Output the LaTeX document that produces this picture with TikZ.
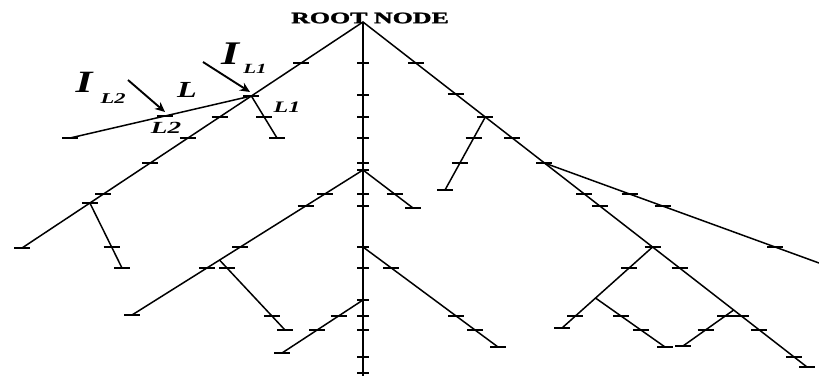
\documentclass[tikz,border=0pt]{standalone}
\usepackage{fontspec}
\usepackage{graphicx}
\setmainfont{Liberation Serif}
\newfontfamily\heavyserif[FakeBold=1.5]{Liberation Serif}
\usetikzlibrary{calc,arrows.meta}
\tikzset{
  branch/.style={line width=1.5pt, line cap=round},
  trunkline/.style={line width=2.8pt},
  tickline/.style={line width=1.3pt},
  curr/.style={line width=1.9pt, -{Stealth[length=10pt,width=9pt]}},
  lbl/.style={inner sep=0pt},
}
\newcommand\wide[2][1.5]{\scalebox{#1}[1]{#2}}
\newcommand\lfont[1]{\fontsize{#1}{#1}\selectfont\bfseries\itshape}
% tick at height #4 (pixels, y down) on line from #2 to #3, half width #1
\newcommand\tickat[4][8]{\draw[tickline] let \p1=(#2), \p2=(#3),
  \n1={\x1+(\x2-\x1)*((-#4pt-\y1)/(\y2-\y1))} in
  ({\n1-#1pt},-#4pt) -- ({\n1+#1pt},-#4pt);}
\begin{document}
\begin{tikzpicture}[x=1pt,y=-1pt]
\useasboundingbox (0,0) rectangle (819,376);
% main points
\coordinate (R) at (363,22);
\coordinate (TB) at (363,376);
\coordinate (LA) at (22,248);
\coordinate (RE) at (807,367);
\coordinate (J1) at ($(R)!0.3274!(LA)$);
\coordinate (J3) at ($(R)!0.8009!(LA)$);
\coordinate (L1E) at (277,138);
\coordinate (L2E) at (70,138);
\coordinate (S3E) at (122,268);
\coordinate (J5) at ($(R)!0.2754!(RE)$);
\coordinate (J6) at ($(R)!0.4087!(RE)$);
\coordinate (J7) at ($(R)!0.6522!(RE)$);
\coordinate (J8) at ($(R)!0.8348!(RE)$);
\coordinate (J5E) at (445,190);
\coordinate (J6E) at (819,263);
\coordinate (J7E) at (562,328);
\coordinate (J9) at ($(J7)!0.63!(J7E)$);
\coordinate (J9E) at (665,347);
\coordinate (J8E) at (683,346);
\coordinate (J10) at (363,170);
\coordinate (J10L) at (132,315);
\coordinate (J11) at ($(J10)!0.621!(J10L)$);
\coordinate (J11E) at (285,330);
\coordinate (J10R) at (413,208);
\coordinate (J12) at (363,247);
\coordinate (J12E) at (498,347);
\coordinate (J13) at (363,300);
\coordinate (J13E) at (282,353);
% arrow ends
\coordinate (A1s) at (203,62);
\coordinate (A1e) at (250,92);
\coordinate (A2s) at (128,80);
\coordinate (A2e) at (165,112);

% trunk
\draw[trunkline] (R) -- (TB);
% branches
\draw[branch] (R) -- (LA);
\draw[branch] (R) -- (RE);
\draw[branch] (J1) -- (L1E);
\draw[branch] (J1) -- (L2E);
\draw[branch] (J3) -- (S3E);
\draw[branch] (J5) -- (J5E);
\draw[branch] (J6) -- (J6E);
\draw[branch] (J7) -- (J7E);
\draw[branch] (J9) -- (J9E);
\draw[branch] (J8) -- (J8E);
\draw[branch] (J10) -- (J10L);
\draw[branch] (J11) -- (J11E);
\draw[branch] (J10) -- (J10R);
\draw[branch] (J12) -- (J12E);
\draw[branch] (J13) -- (J13E);

% ticks on trunk
\foreach \h in {63,95,117,138,163,170,194,206,247,268,300,316,330,357,373}
  {\tickat[6]{R}{TB}{\h}}
% ticks on left main
\foreach \h in {63,96,117,138,163,194,203,248} {\tickat{R}{LA}{\h}}
\foreach \h in {117,138} {\tickat{J1}{L1E}{\h}}
\foreach \h in {116,138} {\tickat{J1}{L2E}{\h}}
\foreach \h in {247,268} {\tickat{J3}{S3E}{\h}}
% ticks on right main
\foreach \h in {63,94,117,138,163,194,206,247,268,316,330,357,367} {\tickat{R}{RE}{\h}}
\foreach \h in {138,163,190} {\tickat{J5}{J5E}{\h}}
\foreach \h in {194,206,247} {\tickat{J6}{J6E}{\h}}
\foreach \h in {268,316,328} {\tickat{J7}{J7E}{\h}}
\foreach \h in {316,330,347} {\tickat{J9}{J9E}{\h}}
\foreach \h in {316,330,346} {\tickat{J8}{J8E}{\h}}
% second subtree
\foreach \h in {194,206,247,268,315} {\tickat{J10}{J10L}{\h}}
\foreach \h in {268,316,330} {\tickat{J11}{J11E}{\h}}
\foreach \h in {194,208} {\tickat{J10}{J10R}{\h}}
\foreach \h in {268,316,330,347} {\tickat{J12}{J12E}{\h}}
\foreach \h in {316,330,353} {\tickat{J13}{J13E}{\h}}

% current arrows
\draw[curr] (A1s) -- (A1e);
\draw[curr] (A2s) -- (A2e);

% labels
\node[lbl] (rootlbl) at (370,18) {\wide[1.62]{\fontsize{16}{16}\selectfont\heavyserif\bfseries ROOT NODE}};
\node[lbl] (iL2) at (84,82) {\wide[1.4]{\lfont{31}I}};
\node[lbl] (iL2s) at (113,99) {\wide{\lfont{15}L2}};
\node[lbl] (iL1) at (230,54) {\wide[1.4]{\lfont{33}I}};
\node[lbl] (iL1s) at (255,69) {\wide{\lfont{14}L1}};
\node[lbl] (lmid) at (187,90) {\wide[1.4]{\lfont{23}L}};
\node[lbl] (l1) at (287,107) {\wide{\lfont{16}L1}};
\node[lbl] (l2) at (166,128) {\wide[1.6]{\lfont{17}L2}};
\end{tikzpicture}
\end{document}
